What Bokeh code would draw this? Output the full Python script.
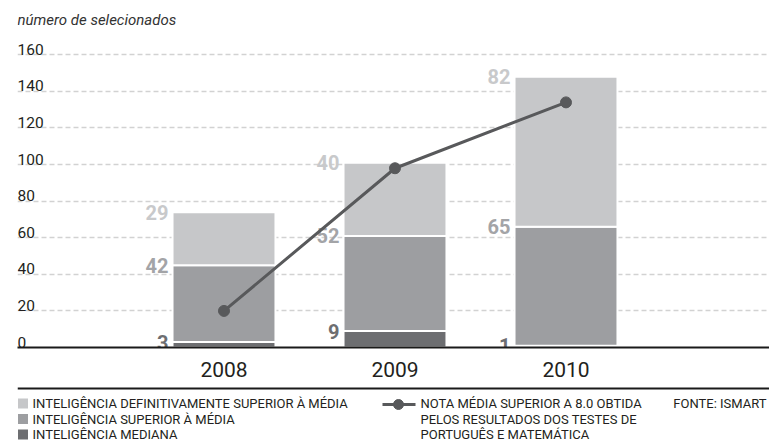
from bokeh.plotting import figure
from bokeh.models import Range1d, FixedTicker, Grid, LinearAxis, ColumnDataSource
from bokeh.layouts import column
from bokeh.core.properties import value
from bokeh.embed import file_html
from bokeh.resources import INLINE

# ---------------- data ----------------
years = ["2008", "2009", "2010"]
mediana = [3, 9, 1]                 # INTELIGÊNCIA MEDIANA
superior = [42, 52, 65]             # INTELIGÊNCIA SUPERIOR À MÉDIA
definitivamente = [29, 40, 82]      # INTELIGÊNCIA DEFINITIVAMENTE SUPERIOR À MÉDIA
nota = [20, 98, 134]                # NOTA MÉDIA SUPERIOR A 8.0
y_ticks = [0, 20, 40, 60, 80, 100, 120, 140, 160]
y_tick_labels = [str(t) for t in y_ticks]

title_text = "número de selecionados"
legend_bars = ["INTELIGÊNCIA DEFINITIVAMENTE SUPERIOR À MÉDIA",
               "INTELIGÊNCIA SUPERIOR À MÉDIA",
               "INTELIGÊNCIA MEDIANA"]
legend_line = ["NOTA MÉDIA SUPERIOR A 8.0 OBTIDA",
               "PELOS RESULTADOS DOS TESTES DE",
               "PORTUGUÊS E MATEMÁTICA"]
source_text = "FONTE: ISMART"

# ---------------- style ----------------
C_LIGHT = "#c6c7c9"
C_MID = "#9d9ea1"
C_DARK = "#6d6e71"
C_LINE = "#58595b"
C_TEXT = "#231f20"
FONT = value("Roboto")

xs = [1, 2, 3]
bar_w = 0.602
x_start, x_end = -0.2076, 4.1901
y_start, y_end = 0, 189.7

p = figure(width=769, height=386, output_backend="svg", toolbar_location=None,
           x_range=Range1d(x_start, x_end), y_range=Range1d(y_start, y_end),
           x_axis_location=None, y_axis_location=None,
           min_border_left=17, min_border_right=0, min_border_top=0, min_border_bottom=39)
p.outline_line_color = None
p.background_fill_color = "white"
p.border_fill_color = "white"
p.center = []

grid = Grid(dimension=1, ticker=FixedTicker(ticks=y_ticks),
            grid_line_color="#d2d2d2", grid_line_dash="5 3", grid_line_width=1.5)
p.add_layout(grid)

src = ColumnDataSource(dict(x=xs, mediana=mediana, superior=superior,
                            definitivamente=definitivamente))
p.vbar_stack(["mediana", "superior", "definitivamente"], x="x", width=bar_w,
             fill_color=[C_DARK, C_MID, C_LIGHT], line_color="white", line_width=2,
             source=src)

# value labels to the left of each segment
tops1 = [a for a in mediana]
tops2 = [a + b for a, b in zip(mediana, superior)]
tops3 = [a + b + c for a, b, c in zip(mediana, superior, definitivamente)]
lab_x = [x - bar_w / 2 for x in xs] * 3
lab_y = tops1 + tops2 + tops3
lab_t = [str(v) for v in mediana + superior + definitivamente]
lab_c = ["#6d6e71"] * 3 + ["#a3a4a7"] * 3 + ["#c8c9cb"] * 3
p.text(x=lab_x, y=lab_y, text=lab_t, text_color=lab_c, text_align="right",
       text_baseline="alphabetic", x_offset=-4, text_font=FONT,
       text_font_style="bold", text_font_size="20px")

# line series
p.line(xs, nota, line_color=C_LINE, line_width=3)
p.scatter(xs, nota, size=11, fill_color=C_LINE, line_color=C_LINE)

# y tick labels (above gridlines, inside the plot)
p.text(x=[x_start] * len(y_ticks), y=y_ticks, text=y_tick_labels, text_color=C_TEXT,
       text_align="left", text_baseline="bottom", text_font=FONT, text_font_size="15.5px")

# title
p.text(x=[x_start], y=[y_end - 10.9], text=[title_text], text_color="#333333",
       text_align="left", text_baseline="middle", text_font=FONT,
       text_font_style="italic", text_font_size="15px")

xaxis = LinearAxis(ticker=FixedTicker(ticks=xs),
                   major_label_overrides={x: y for x, y in zip(xs, years)})
xaxis.axis_line_color = "#1a1a1a"
xaxis.axis_line_width = 2
xaxis.major_tick_line_color = None
xaxis.minor_tick_line_color = None
xaxis.major_label_text_font = "Roboto"
xaxis.major_label_text_font_size = "21px"
xaxis.major_label_text_color = C_TEXT
xaxis.major_label_standoff = 8
p.add_layout(xaxis, "below")

# ---------------- legend strip ----------------
# (its frame is aligned to the main plot's frame, which starts 17px from the left)
leg = figure(width=769, height=55, output_backend="svg", toolbar_location=None,
             x_range=Range1d(17, 769), y_range=Range1d(55, 0),
             x_axis_location=None, y_axis_location=None,
             min_border=0, min_border_left=17, min_border_right=0,
             min_border_top=0, min_border_bottom=0)
leg.outline_line_color = None
leg.center = []

leg.segment(x0=[17], y0=[2], x1=[769], y1=[2], line_color="#1a1a1a", line_width=2)

row_y = [17, 32.5, 48]
leg.rect(x=[22.5] * 3, y=row_y, width=10, height=10,
         fill_color=[C_LIGHT, C_MID, C_DARK], line_color=None)
leg.text(x=[32] * 3, y=row_y, text=legend_bars, text_color=C_TEXT,
         text_baseline="middle", text_font=FONT, text_font_size="13px")

leg.segment(x0=[382], y0=[18], x1=[415], y1=[18], line_color=C_LINE, line_width=3)
leg.scatter(x=[398], y=[18], size=10, fill_color=C_LINE, line_color=C_LINE)
leg.text(x=[420] * 3, y=row_y, text=legend_line, text_color=C_TEXT,
         text_baseline="middle", text_font=FONT, text_font_size="13px")

leg.text(x=[766], y=[17], text=[source_text], text_color=C_TEXT, text_align="right",
         text_baseline="middle", text_font=FONT, text_font_size="13px")

layout = column(p, leg, spacing=0)
open("out.html", "w").write(file_html(layout, INLINE))
